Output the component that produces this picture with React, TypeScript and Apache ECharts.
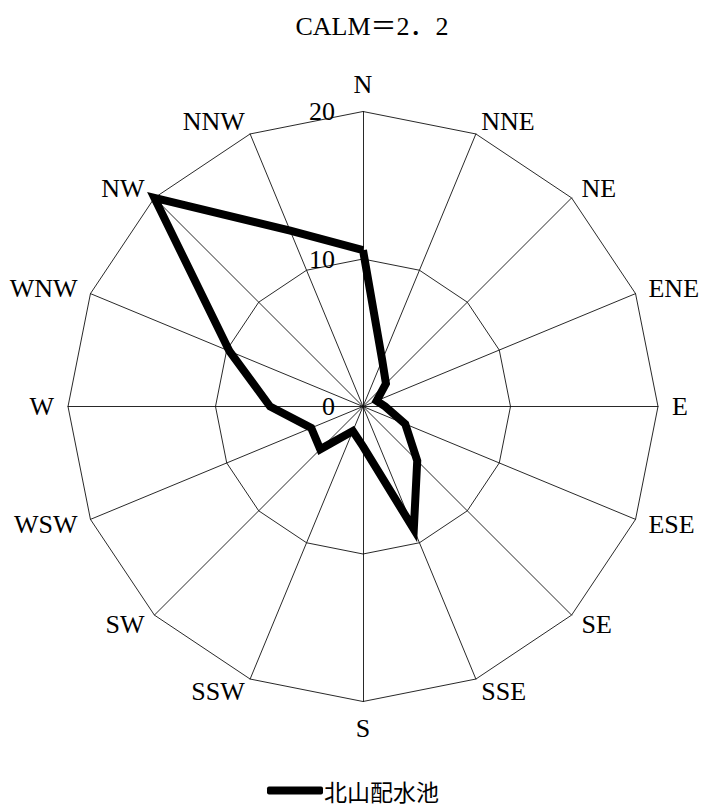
import React, { useEffect, useRef } from "react";
import * as echarts from "echarts";

// Directions, listed clockwise from north
const directions = ["N", "NNE", "NE", "ENE", "E", "ESE", "SE", "SSE", "S", "SSW", "SW", "WSW", "W", "WNW", "NW", "NNW"];
const values = [10.6, 3.4, 2.2, 1.0, 1.5, 3.1, 5.2, 9.0, 2.7, 1.8, 4.1, 3.8, 6.3, 9.8, 20, 12.9];
const seriesName = "北山配水池";
const titleText = "CALM＝2．2";
const maxValue = 20;

export default function App() {
  const ref = useRef<HTMLDivElement>(null);
  useEffect(() => {
    if (!ref.current) return;
    const chart = echarts.init(ref.current, null, { renderer: "svg" });
    // ECharts radar places indicators counter-clockwise: N first, then reversed rest
    const order = [0, ...Array.from({ length: directions.length - 1 }, (_, i) => directions.length - 1 - i)];
    const indicator = order.map((idx, k) => ({
      name: directions[idx],
      max: maxValue,
      min: 0,
      axisLabel: k === 0
        ? { show: true, color: "#000", fontSize: 26, fontFamily: "Liberation Serif, serif", margin: 28 }
        : { show: false },
    }));
    const data = order.map((idx) => values[idx]);
    chart.setOption({
      animation: false,
      backgroundColor: "#fff",
      title: {
        text: titleText,
        left: 367,
        textAlign: "center",
        top: 8,
        textStyle: { fontSize: 26, fontWeight: "normal", color: "#000", fontFamily: "Liberation Serif, Noto Sans CJK JP, serif" },
      },
      legend: {
        data: [seriesName],
        left: 262,
        top: 774,
        icon: "roundRect",
        itemWidth: 56,
        itemHeight: 8,
        itemGap: 10,
        textStyle: { fontSize: 23, color: "#000", fontFamily: "Noto Sans CJK JP, sans-serif", padding: [0, 0, 0, -4] },
      },
      radar: {
        center: [363, 406.5],
        radius: 295,
        startAngle: 90,
        shape: "polygon",
        splitNumber: 2,
        indicator,
        nameGap: 14,
        axisName: { color: "#000", fontSize: 26, fontFamily: "Liberation Serif, serif" },
        axisLine: { lineStyle: { color: "#111", width: 0.9 } },
        splitLine: { lineStyle: { color: "#111", width: 0.9 } },
        splitArea: { show: false },
        axisTick: { show: false },
      },
      series: [
        {
          type: "radar",
          name: seriesName,
          symbol: "none",
          lineStyle: { color: "#000", width: 8, join: "miter" },
          itemStyle: { color: "#000" },
          data: [{ value: data, name: seriesName }],
        },
      ],
    });
    return () => chart.dispose();
  }, []);
  return <div ref={ref} style={{ position: "absolute", left: 0, top: 0, width: 701, height: 810 }} />;
}
